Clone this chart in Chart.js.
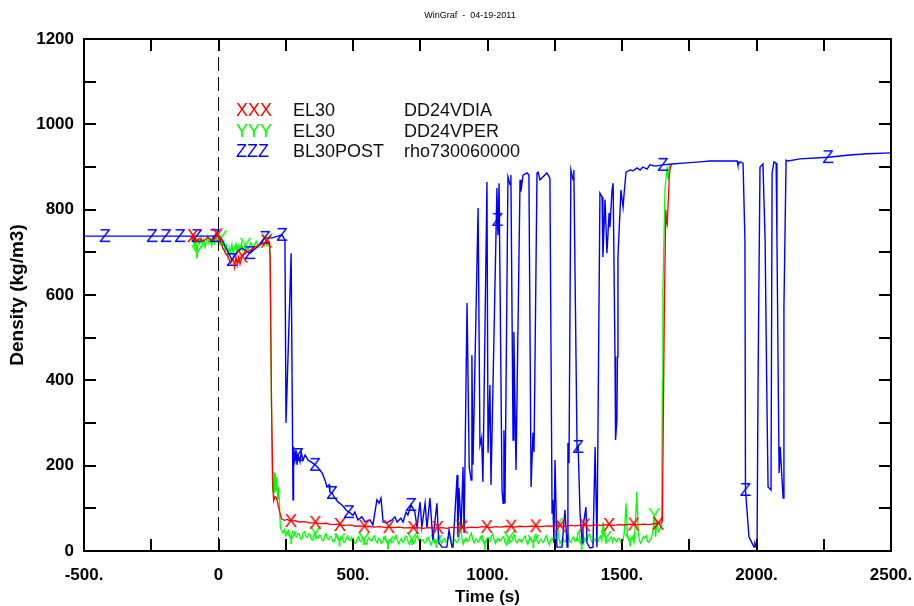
<!DOCTYPE html>
<html>
<head>
<meta charset="utf-8">
<script src="https://cdn.jsdelivr.net/npm/chart.js@4.4.1/dist/chart.umd.min.js"></script>
<style>
  html, body { margin: 0; padding: 0; background: #ffffff; }
  canvas { display: block; }
</style>
</head>
<body>
<canvas id="chart" width="914" height="606"></canvas>
<script>
// ---- EL30 DD24VDIA (red) ----
const redTimes = [-100,-95,-85,-70,-55,-40,-25,-10,-4,5,15,25,35,45,55,60,65,70,75,80,87,95,110,125,140,155,170,178,188,192,197,202,205,210,215,220,228,235,245,255,269,285,300,320,340,360,380,400,420,440,451,470,490,510,530,542,560,580,600,620,633,650,670,690,710,724,740,760,780,800,815,830,850,870,890,906,920,940,960,980,997,1010,1030,1050,1070,1088,1100,1120,1140,1160,1179,1200,1220,1240,1260,1270,1290,1310,1330,1350,1361,1380,1400,1420,1440,1452,1470,1490,1510,1530,1543,1560,1580,1600,1620,1634,1645,1650,1658,1663,1666,1668,1672,1676,1680,1684];
const redValues = [730,738,724,733,726,735,728,736,740,728,712,700,690,675,685,665,690,670,688,672,690,695,702,708,714,718,722,725,726,690,350,150,118,128,125,112,90,75,72,74,70,71,68,69,66,66,64,65,62,63,61,60,61,58,59,57,58,56,57,55,56,55,56,54,55,54,55,53,55,54,54,55,53,56,54,55,54,56,55,57,56,55,57,56,58,57,56,58,57,58,58,57,59,58,60,59,58,60,59,61,60,59,61,60,62,61,60,62,61,63,62,62,63,62,64,64,66,70,600,800,770,765,820,880,900,905];
const redMarks = [-95,-4,87,178,269,360,451,542,633,724,815,906,997,1088,1179,1270,1361,1452,1543,1634];

// ---- EL30 DD24VPER (green) ----
const greenTimes = [-100,-95,-90,-85,-80,-75,-70,-65,-60,-55,-50,-45,-40,-35,-30,-25,-20,-15,-10,-5,0,5,10,15,20,25,30,35,40,45,50,55,60,65,70,75,80,85,90,100,110,120,130,140,150,160,170,180,186,191,196,200,203,206,208,211,214,217,220,224,
  230,235,240,245,250,255,260,265,270,275,280,285,290,295,300,305,310,315,320,325,
  330,335,340,345,350,355,360,365,370,375,380,385,390,395,400,405,410,415,420,425,
  430,435,440,445,450,455,460,465,470,475,480,485,490,495,500,505,510,515,520,525,
  530,535,540,545,550,555,560,565,570,575,580,585,590,595,600,605,610,615,620,625,
  630,635,640,645,650,655,660,665,670,675,680,685,690,695,700,705,710,715,720,725,
  730,735,740,745,750,755,760,765,770,775,780,785,790,795,800,805,810,815,820,825,
  830,835,840,845,850,855,860,865,870,875,880,885,890,895,900,905,910,915,920,925,
  930,935,940,945,950,955,960,965,970,975,980,985,990,995,1000,1005,1010,1015,1020,1025,
  1030,1035,1040,1045,1050,1055,1060,1065,1070,1075,1080,1085,1090,1095,1100,1105,1110,1115,1120,1125,
  1130,1135,1140,1145,1150,1155,1160,1165,1170,1175,1180,1185,1190,1195,1200,1205,1210,1215,1220,1225,
  1230,1235,1240,1245,1250,1255,1260,1265,1270,1275,1280,1285,1290,1295,1300,1305,1310,1315,1320,1325,
  1330,1335,1340,1345,1350,1355,1360,1365,1370,1375,1380,1385,1390,1395,1400,1405,1410,1415,1420,1425,
  1430,1435,1440,1445,1450,1455,1460,1465,1470,1475,1480,1485,1490,1495,1500,1505,1510,1515,1520,1525,
  1530,1535,1540,1545,1550,1555,1560,1565,1570,1575,1580,1585,1590,1595,1600,1605,1610,1615,1620,1625,
  1630,1635,1640,
  1645,1648,1650,1652,1655,1660,1665,1668,1672,1676,1680];
const greenValues = [725,735,715,730,700,728,720,735,718,730,712,727,738,720,730,715,733,722,740,725,732,720,735,712,725,700,715,690,712,700,718,695,712,720,700,715,705,722,705,718,706,722,710,726,712,724,716,728,722,715,400,170,140,185,136,183,143,173,120,150,
  56,47,42,50,35,44,48,33,30,46,44,36,33,41,40,29,28,43,45,34,
  31,40,38,27,26,39,42,31,30,37,36,25,24,35,40,29,27,34,33,22,
  22,31,38,27,25,33,31,20,20,30,35,26,24,32,29,19,18,28,33,24,
  22,30,28,18,16,27,31,25,23,33,35,24,19,29,27,17,21,30,34,22,
  18,27,26,19,22,31,37,25,17,24,29,20,24,35,33,21,15,26,28,18,
  22,32,36,24,18,25,27,19,20,30,32,23,14,23,26,18,21,31,35,24,
  17,26,29,21,23,33,31,19,13,24,27,20,22,34,58,30,16,25,30,22,
  24,36,42,27,19,26,28,21,25,33,36,24,17,27,31,22,23,35,40,25,
  18,26,29,23,26,32,34,20,15,25,30,22,22,33,37,24,19,26,28,21,
  24,31,35,22,16,27,31,23,21,34,39,24,18,25,27,20,23,32,36,22,
  14,26,30,24,25,44,62,31,17,25,29,21,22,34,38,24,20,29,33,23,
  24,39,45,26,15,27,30,23,26,36,40,25,18,24,28,20,21,30,35,24,
  68,40,31,22,24,29,33,21,30,26,22,28,30,20,19,27,55,112,40,25,
  25,31,29,20,70,138,45,24,18,26,34,31,36,22,20,27,30,48,84,33,
  72,45,50,
  60,80,400,612,700,850,880,900,870,905,908];
const greenMarks = [-80,10,100,180,270,360,450,540,630,720,810,900,990,1080,1170,1260,1350,1440,1530,1620];

// ---- BL30POST rho730060000 (blue) ----
const blueTimes = [-500,-422,-247,-195,-143,-80,-13,0,13,32,50,69,87,117,143,173,199,236,247,251,270,277,279,284,288,292,296,303,307,314,322,333,344,359,370,385,396,403,411,414,422,433,444,459,474,485,500,507,518,533,545,563,574,589,597,604,612,626,645,656,664,678,686,697,704,716,730,738,749,756,768,775,786,797,812,819,831,849,857,868,872,887,890,894,902,909,913,924,932,939,942,946,965,972,978,983,998,1002,1009,1013,1035,1037,1039,1043,1054,1058,1061,1065,1076,1084,1087,1095,1098,1106,1121,1124,1132,1147,1154,1162,1169,1173,1184,1188,1195,1221,1232,1240,1243,1247,1251,1258,1277,1288,1296,1299,1303,1310,1318,1321,1333,1337,1344,1352,1355,1366,1370,1381,1392,1400,1407,1418,1426,1429,1437,1444,1452,1455,1463,1467,1474,1476,1481,1483,1485,1496,1504,1508,1515,1530,1541,1556,1567,1578,1593,1604,1623,1652,1686,1727,1790,1827,1928,1931,1939,1950,1957,1959,1972,1983,1991,1994,2002,2006,2013,2024,2032,2039,2043,2054,2058,2065,2073,2076,2084,2088,2099,2102,2110,2117,2162,2266,2347,2411,2500];
const blueValues = [738,738,738,738,738,738,738,738,729,706,682,701,710,698,712,734,734,741,729,300,698,120,244,213,237,202,225,209,232,213,225,213,209,202,195,183,166,150,155,138,136,124,115,108,96,91,84,91,73,80,68,73,61,120,112,124,68,66,73,80,68,77,68,91,84,108,91,56,115,56,112,54,124,26,112,19,9,9,49,9,9,178,33,148,56,197,42,581,197,166,459,202,804,248,265,162,865,230,389,155,851,776,740,862,143,112,283,112,877,858,881,260,513,190,870,842,881,886,881,150,277,232,886,888,870,886,874,89,120,19,213,9,9,96,9,253,206,893,870,893,237,244,89,19,56,103,19,7,9,244,9,839,830,689,823,698,792,759,846,862,455,260,307,455,689,846,806,839,888,893,891,898,893,900,895,905,902,905,907,909,912,914,914,905,912,909,729,143,33,19,9,19,7,417,900,907,729,338,150,143,886,912,909,729,183,244,124,572,916,914,919,923,928,931,933];
const blueMarks = [-422,-247,-195,-143,-80,-13,50,117,173,236,296,359,422,485,716,1037,1337,1652,1959,2266];

// ---- axes and annotation text ----
const xRange = [-500, 2500];
const yRange = [0, 1200];
const chartTitle = 'WinGraf  -  04-19-2011';
const xTitle = 'Time (s)';
const yTitle = 'Density (kg/m3)';
const legendRows = [
  ['XXX', 'EL30', 'DD24VDIA'],
  ['YYY', 'EL30', 'DD24VPER'],
  ['ZZZ', 'BL30POST', 'rho730060000']
];
const legendColors = ['#ff0000', '#00ff00', '#0000ff'];

const FONT = '"Liberation Sans", Arial, Helvetica, sans-serif';

function pairs(ts, vs) { return ts.map((t, i) => ({ x: t, y: vs[i] })); }

// Letter glyph used as point marker
function glyph(letter, color) {
  const c = document.createElement('canvas');
  c.width = 18; c.height = 20;
  const g = c.getContext('2d');
  g.font = '19px ' + FONT;
  g.fillStyle = color;
  g.textAlign = 'center';
  g.textBaseline = 'middle';
  g.fillText(letter, 9, 11);
  return c;
}

function markerRadius(set) {
  return ctx => (ctx.raw && set.has(ctx.raw.x)) ? 6 : 0;
}

const redSet = new Set(redMarks), greenSet = new Set(greenMarks), blueSet = new Set(blueMarks);

// Frame, inward ticks, titles and legend block
const framePlugin = {
  id: 'frame',
  afterDatasetsDraw(chart) {
    const { ctx, chartArea: a, scales } = chart;
    const xs = scales.x, ys = scales.y;
    ctx.save();
    ctx.strokeStyle = '#000';
    ctx.lineWidth = 2;
    ctx.strokeRect(a.left, a.top, a.right - a.left, a.bottom - a.top);
    const tl = 12;
    ctx.beginPath();
    for (let v = xRange[0] + 250; v < xRange[1]; v += 250) {
      const px = Math.round(xs.getPixelForValue(v));
      ctx.moveTo(px, a.bottom); ctx.lineTo(px, a.bottom - tl);
      ctx.moveTo(px, a.top); ctx.lineTo(px, a.top + tl);
    }
    for (let v = yRange[0] + 100; v < yRange[1]; v += 100) {
      const py = Math.round(ys.getPixelForValue(v));
      ctx.moveTo(a.left, py); ctx.lineTo(a.left + tl, py);
      ctx.moveTo(a.right, py); ctx.lineTo(a.right - tl, py);
    }
    ctx.stroke();

    ctx.fillStyle = '#000';
    ctx.textAlign = 'center';
    ctx.textBaseline = 'middle';
    ctx.font = '9px ' + FONT;
    ctx.fillText(chartTitle, 470, 16);

    ctx.font = 'bold 17px ' + FONT;
    ctx.fillText(xTitle, (a.left + a.right) / 2, 597);
    ctx.save();
    ctx.translate(18, (a.top + a.bottom) / 2);
    ctx.rotate(-Math.PI / 2);
    ctx.font = 'bold 19px ' + FONT;
    ctx.fillText(yTitle, 0, 0);
    ctx.restore();

    ctx.font = '18px ' + FONT;
    ctx.textAlign = 'left';
    legendRows.forEach((row, i) => {
      const y = 111 + i * 20.7;
      ctx.fillStyle = legendColors[i];
      ctx.fillText(row[0], 236, y);
      ctx.fillStyle = '#111';
      ctx.fillText(row[1], 293, y);
      ctx.fillText(row[2], 404, y);
    });
    ctx.restore();
  }
};

new Chart(document.getElementById('chart'), {
  type: 'line',
  data: {
    datasets: [
      {
        label: 'EL30 DD24VDIA',
        data: pairs(redTimes, redValues),
        borderColor: '#ff0000', borderWidth: 1.3,
        pointStyle: glyph('X', '#ff0000'), pointRadius: markerRadius(redSet)
      },
      {
        label: 'BL30POST rho730060000',
        data: pairs(blueTimes, blueValues),
        borderColor: '#0000ff', borderWidth: 1.4,
        pointStyle: glyph('Z', '#0000ff'), pointRadius: markerRadius(blueSet)
      },
      {
        label: 'EL30 DD24VPER',
        data: pairs(greenTimes, greenValues),
        borderColor: '#00ff00', borderWidth: 1.3,
        pointStyle: glyph('Y', '#00ff00'), pointRadius: markerRadius(greenSet)
      },
      {
        label: 't0',
        data: [{ x: 0, y: yRange[0] }, { x: 0, y: yRange[1] }],
        borderColor: '#000', borderWidth: 1, borderDash: [14, 6],
        pointRadius: 0
      }
    ]
  },
  options: {
    responsive: false,
    animation: false,
    events: [],
    elements: { line: { tension: 0, fill: false }, point: { hoverRadius: 0, hitRadius: 0 } },
    layout: { padding: { top: 39, right: 23, left: 0, bottom: 0 } },
    plugins: { legend: { display: false }, tooltip: { enabled: false }, title: { display: false } },
    scales: {
      x: {
        type: 'linear', min: xRange[0], max: xRange[1],
        grid: { display: false, drawTicks: false },
        border: { display: false },
        afterFit: s => { s.height = 55; s.paddingLeft = 0; s.paddingRight = 0; },
        ticks: {
          stepSize: 250, autoSkip: false, maxRotation: 0, padding: 14,
          color: '#000', font: { family: FONT, size: 17, weight: 'bold' },
          callback: v => (v % 500 === 0) ? (v === 0 ? '0' : v + '.') : ''
        }
      },
      y: {
        type: 'linear', min: yRange[0], max: yRange[1],
        grid: { display: false, drawTicks: false },
        border: { display: false },
        afterFit: s => { s.width = 84; s.paddingTop = 0; s.paddingBottom = 0; },
        ticks: {
          stepSize: 100, autoSkip: false, padding: 10,
          color: '#000', font: { family: FONT, size: 17, weight: 'bold' },
          callback: v => (v % 200 === 0) ? String(v) : ''
        }
      }
    }
  },
  plugins: [framePlugin]
});
</script>
</body>
</html>
